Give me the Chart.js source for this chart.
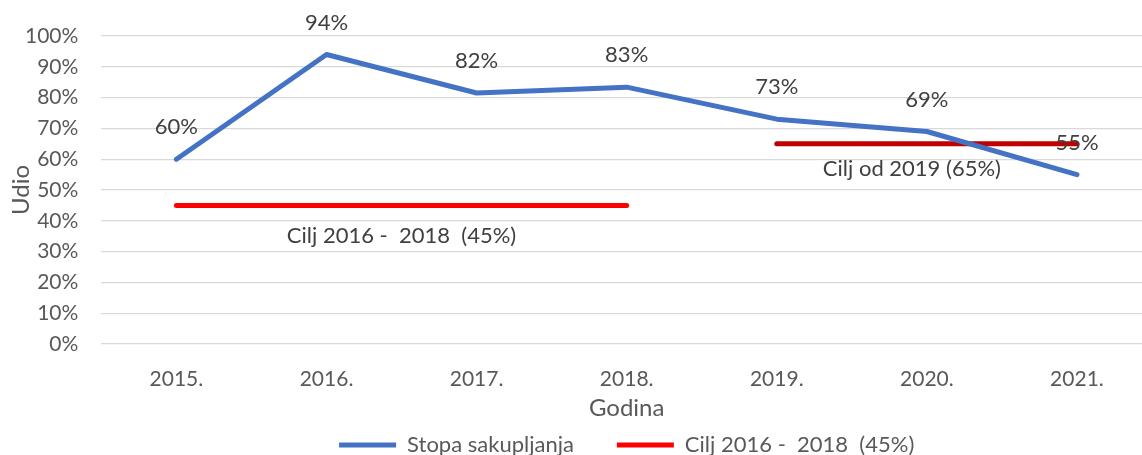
<!DOCTYPE html>
<html>
<head>
<meta charset="utf-8">
<script src="https://cdn.jsdelivr.net/npm/chart.js@4.4.1/dist/chart.umd.min.js"></script>
<style>
  html, body { margin: 0; padding: 0; background: #ffffff; overflow: hidden; }
  #wrap { width: 1142px; height: 455px; overflow: hidden; position: relative; }
  #chart { display: block; }
</style>
</head>
<body>
<div id="wrap"><canvas id="chart" width="1160" height="455"></canvas></div>
<script>
// Categories (years) on the x axis
const years = ['2015.', '2016.', '2017.', '2018.', '2019.', '2020.', '2021.'];

// Collection rate, percent
const stopaSakupljanja = [60, 94, 81.5, 83.4, 73, 69, 55];

// Targets: 45 % for 2016-2018, 65 % from 2019 on
const cilj2016_2018 = [45, 45, 45, 45, null, null, null];
const ciljOd2019 = [null, null, null, null, 65, 65, 65];

// Y axis tick values
const yTicks = [0, 10, 20, 30, 40, 50, 60, 70, 80, 90, 100];

const seriesNames = ['Stopa sakupljanja', 'Cilj 2016 -  2018  (45%)', 'Cilj od 2019 (65%)'];

const FONT = 'Lato, "Open Sans", sans-serif';
const AXIS_COLOR = '#595959';
const LABEL_COLOR = '#404040';

// Percentage labels above each point of the collection-rate line,
// and a caption under each target segment.
const lineLabels = {
  id: 'lineLabels',
  afterDatasetsDraw(chart) {
    const ctx = chart.ctx;
    ctx.save();
    ctx.font = '22px ' + FONT;
    ctx.fillStyle = LABEL_COLOR;
    ctx.textAlign = 'center';
    ctx.textBaseline = 'middle';

    const rateMeta = chart.getDatasetMeta(0);
    rateMeta.data.forEach((pt, i) => {
      ctx.fillText(Math.round(stopaSakupljanja[i]) + '%', pt.x, pt.y - 32);
    });

    // captions for the two target segments
    [[1, 0, 31], [2, -15, 25]].forEach(([di, dx, dy]) => {
      const meta = chart.getDatasetMeta(di);
      const ds = chart.data.datasets[di];
      const pts = meta.data.filter((p, i) => ds.data[i] !== null);
      const first = pts[0], last = pts[pts.length - 1];
      ctx.fillText(ds.label, (first.x + last.x) / 2 + dx, first.y + dy);
    });
    ctx.restore();
  }
};

function legendItems(chart) {
  const items = Chart.defaults.plugins.legend.labels.generateLabels(chart)
    .filter(item => item.datasetIndex < 2);
  // wider spacing after the first entry
  items[0].text = items[0].text + '\u2003\u2003';
  return items;
}

function draw() {
  new Chart(document.getElementById('chart'), {
    type: 'line',
    data: {
      labels: years,
      datasets: [
        {
          label: seriesNames[0],
          data: stopaSakupljanja,
          borderColor: '#4472C4',
          backgroundColor: '#4472C4',
          borderWidth: 5,
          borderCapStyle: 'round',
          borderJoinStyle: 'round',
          pointRadius: 0,
          pointStyle: 'line',
          tension: 0
        },
        {
          label: seriesNames[1],
          data: cilj2016_2018,
          borderColor: '#FF0000',
          backgroundColor: '#FF0000',
          borderWidth: 5,
          borderCapStyle: 'round',
          pointRadius: 0,
          pointStyle: 'line',
          spanGaps: false
        },
        {
          label: seriesNames[2],
          data: ciljOd2019,
          borderColor: '#C00000',
          backgroundColor: '#C00000',
          borderWidth: 5,
          borderCapStyle: 'round',
          pointRadius: 0,
          pointStyle: 'line',
          spanGaps: false
        }
      ]
    },
    options: {
      responsive: false,
      animation: false,
      devicePixelRatio: 1,
      layout: { padding: { top: 36, right: 8, left: 2, bottom: -11 } },
      plugins: {
        tooltip: { enabled: false },
        legend: {
          position: 'bottom',
          fullSize: false,
          labels: {
            usePointStyle: true,
            pointStyleWidth: 57,
            color: AXIS_COLOR,
            font: { family: FONT, size: 22 },
            padding: 10,
            generateLabels: legendItems
          }
        }
      },
      scales: {
        x: {
          offset: true,
          grid: { display: false, drawTicks: false, tickLength: 0 },
          border: { display: false },
          ticks: {
            color: AXIS_COLOR,
            font: { family: FONT, size: 21 },
            padding: 23,
            maxRotation: 0
          },
          title: {
            display: true,
            text: 'Godina',
            color: AXIS_COLOR,
            font: { family: FONT, size: 24, lineHeight: 1.2 },
            padding: { top: -21, bottom: 1 }
          }
        },
        y: {
          min: 0,
          max: 100,
          afterBuildTicks(scale) {
            scale.ticks = yTicks.map(v => ({ value: v }));
          },
          grid: { color: '#d9d9d9', lineWidth: 1.3, drawTicks: false },
          border: { display: false },
          ticks: {
            color: AXIS_COLOR,
            font: { family: FONT, size: 21 },
            padding: 23,
            autoSkip: false,
            callback: (v) => v + '%'
          },
          title: {
            display: true,
            text: 'Udio',
            color: AXIS_COLOR,
            font: { family: FONT, size: 24, lineHeight: 1.0 },
            padding: { top: 7, bottom: -31 }
          }
        }
      }
    },
    plugins: [lineLabels]
  });
}

if (document.fonts && document.fonts.load) {
  document.fonts.load('22px Lato').then(draw, draw);
} else {
  draw();
}
</script>
</body>
</html>
